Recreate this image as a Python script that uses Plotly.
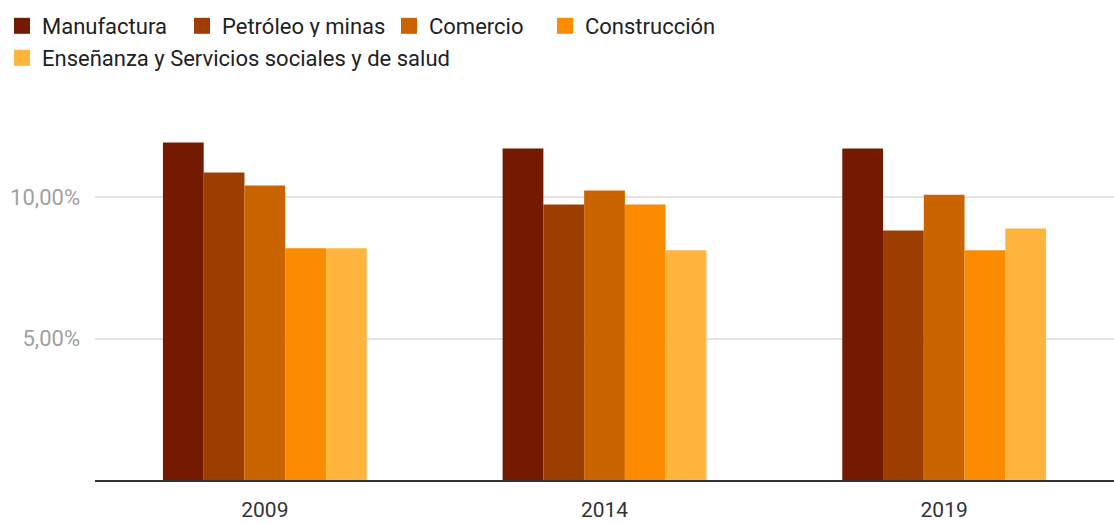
import plotly.graph_objects as go

years = ["2009", "2014", "2019"]
series_names = ["Manufactura", "Petróleo y minas", "Comercio", "Construcción",
                "Enseñanza y Servicios sociales y de salud"]
manufactura = [11.95, 11.73, 11.73]
petroleo = [10.88, 9.75, 8.83]
comercio = [10.42, 10.25, 10.10]
construccion = [8.20, 9.75, 8.13]
ensenanza = [8.20, 8.13, 8.90]
colors = ["#741a00", "#9c3e00", "#c96400", "#fb8c00", "#ffb43e"]
y_ticks = [5, 10]
y_tick_text = [f"{v:.2f}%".replace(".", ",") for v in y_ticks]

values = [manufactura, petroleo, comercio, construccion, ensenanza]
legend_ids = ["legend", "legend2", "legend3", "legend4", "legend5"]
# legend placement (pixels in the 1114x523 canvas): left x, top y
legend_x_px = [2, 182, 389, 545, 2]
legend_y_px = [5, 5, 5, 5, 37]

fig = go.Figure()
for name, vals, col in zip(series_names, values, colors):
    fig.add_trace(go.Bar(x=years, y=vals, name=name, showlegend=False,
                         marker=dict(color=col, line=dict(width=0))))
for name, col, lg in zip(series_names, colors, legend_ids):
    fig.add_trace(go.Scatter(x=[None], y=[None], mode="markers", name=name, legend=lg,
                             marker=dict(symbol="square", size=19, color=col)))

W, H = 1114, 523
legend_layout = {}
for lg, lx, ly in zip(legend_ids, legend_x_px, legend_y_px):
    legend_layout[lg] = dict(orientation="h", x=lx / W, y=1 - ly / H,
                             xref="container", yref="container",
                             xanchor="left", yanchor="top",
                             font=dict(size=22, color="#222222"),
                             itemsizing="trace", tracegroupgap=0)

fig.update_layout(
    width=W, height=H,
    barmode="group", bargap=0.4, bargroupgap=0,
    plot_bgcolor="white", paper_bgcolor="white",
    margin=dict(l=95, r=0, t=100, b=43),
    font=dict(family="Roboto", size=21, color="#222222"),
    xaxis=dict(type="category", showgrid=False, showline=True, linecolor="#333333", linewidth=2,
               ticks="", tickfont=dict(size=21, color="#333333"), ticklabelstandoff=10),
    yaxis=dict(range=[0, 13.45], tickvals=y_ticks, ticktext=y_tick_text,
               showgrid=True, gridcolor="#e3e3e3", gridwidth=1.5, zeroline=False,
               tickfont=dict(size=22, color="#a0a0a0"), ticklabelstandoff=14),
    **legend_layout,
)
fig.write_html("out.html", config={"displayModeBar": False},
               post_script="document.body.style.margin='0px';")
